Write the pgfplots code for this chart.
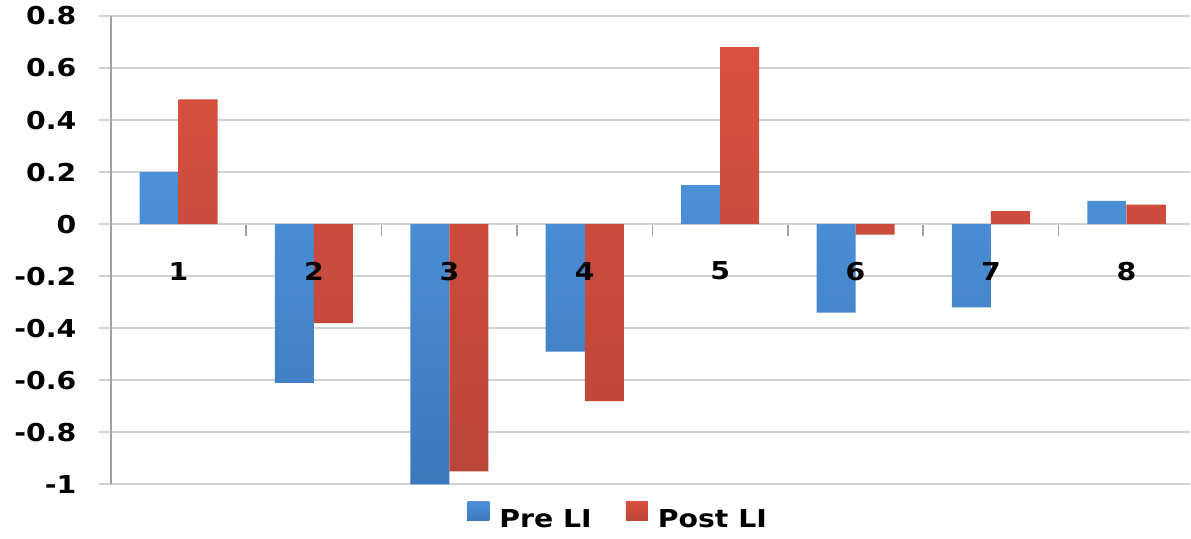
\documentclass[border=0pt]{standalone}
\usepackage{fontspec}
\setmainfont{DejaVu Sans}[FakeStretch=1.15]
\usepackage{pgfplots}
\pgfplotsset{compat=1.18}
\definecolor{pretop}{HTML}{4C91D8}
\definecolor{prebot}{HTML}{3C78BC}
\definecolor{posttop}{HTML}{D9513F}
\definecolor{postbot}{HTML}{BA4539}
\definecolor{gridc}{HTML}{D2D2D2}
\definecolor{axisc}{HTML}{A0A0A0}
\begin{document}
\begin{tikzpicture}[font=\fontsize{12.3}{15}\selectfont\bfseries]
\begin{axis}[
  scale only axis, width=539pt, height=234pt,
  xmin=0.5, xmax=8.47, ymin=-1, ymax=0.8,
  axis x line*=middle, axis y line*=left,
  x axis line style={draw=gridc, line width=1pt},
  y axis line style={draw=axisc, line width=0.8pt},
  xtick={1.5,2.5,...,7.5}, xticklabels={},
  xtick align=outside,
  x tick style={draw=axisc, line width=0.8pt},
  ytick={-1,-0.8,-0.6,-0.4,-0.2,0,0.2,0.4,0.6,0.8},
  yticklabels={-1,-0.8,-0.6,-0.4,-0.2,0,0.2,0.4,0.6,0.8},
  ytick align=outside, major tick length=6pt,
  y tick style={draw=gridc, line width=1pt},
  yticklabel style={xshift=-7.7pt, text width=34.8pt, align=right},
  ymajorgrids, grid style={draw=gridc, line width=1pt},
  legend style={draw=none, fill=none, at={(0.471,-0.072)}, anchor=center,
    legend columns=2,
    /tikz/every odd column/.append style={column sep=3pt},
    /tikz/every even column/.append style={column sep=15pt}},
  legend image code/.code={\fill[#1] (0pt,-0.5pt) rectangle (11pt,9pt);},
]
\addplot[ybar, bar width=19.5pt, bar shift=-9.75pt, draw=none,
  top color=pretop, bottom color=prebot] coordinates {
  (1,0.20) (2,-0.61) (3,-1.00) (4,-0.49) (5,0.15) (6,-0.34) (7,-0.32) (8,0.09)};
\addplot[ybar, bar width=19.5pt, bar shift=9.75pt, draw=none,
  top color=posttop, bottom color=postbot] coordinates {
  (1,0.48) (2,-0.38) (3,-0.95) (4,-0.68) (5,0.68) (6,-0.04) (7,0.05) (8,0.075)};
\legend{Pre LI, Post LI}
% category names, set just below the zero line and above the bars
\addplot[draw=none, mark=none, forget plot, nodes near coords,
  point meta=explicit symbolic,
  every node near coord/.append style={anchor=center, text=black}]
  coordinates {(1,-0.18) [1] (2,-0.18) [2] (3,-0.18) [3] (4,-0.18) [4]
               (5,-0.18) [5] (6,-0.18) [6] (7,-0.18) [7] (8,-0.18) [8]};
\end{axis}
\end{tikzpicture}
\end{document}
